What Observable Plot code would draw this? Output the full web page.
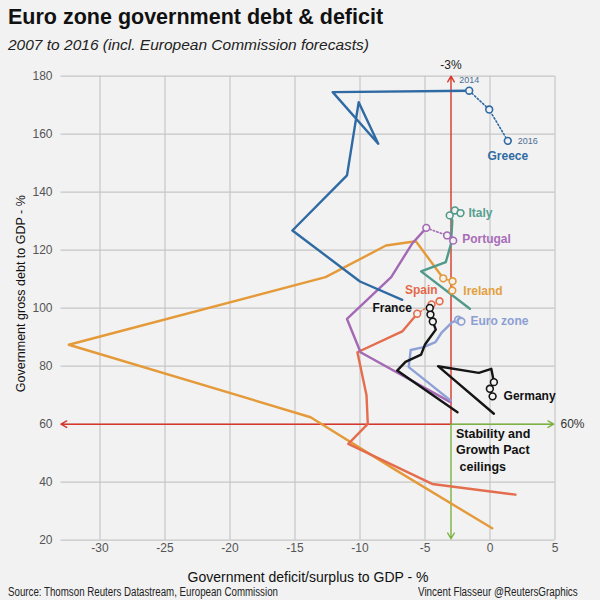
<!DOCTYPE html>
<html><head><meta charset="utf-8">
<script src="https://cdn.jsdelivr.net/npm/d3@7"></script>
<script src="https://cdn.jsdelivr.net/npm/@observablehq/plot@0.6"></script>
<style>
html,body{margin:0;padding:0;background:#f2f2f2;}
#wrap{position:relative;width:600px;height:600px;overflow:hidden;font-family:"Liberation Sans",Arial,sans-serif;}
#title{position:absolute;left:8px;top:7px;font-size:21.5px;font-weight:bold;line-height:1;color:#111;white-space:nowrap;}
#subtitle{position:absolute;left:8px;top:37px;font-size:15.5px;font-style:italic;line-height:1;color:#222;white-space:nowrap;}
#chart{position:absolute;left:0;top:58px;}
.foot{position:absolute;top:586px;font-size:12px;line-height:1;color:#222;white-space:nowrap;}
#footL{left:8px;transform:scaleX(0.81);transform-origin:left center;}
#footR{right:22px;transform:scaleX(0.82);transform-origin:right center;}
</style></head>
<body>
<div id="wrap">
  <div id="title">Euro zone government debt &amp; deficit</div>
  <div id="subtitle">2007 to 2016 (incl. European Commission forecasts)</div>
  <div id="chart"></div>
  <div class="foot" id="footL">Source: Thomson Reuters Datastream, European Commission</div>
  <div class="foot" id="footR">Vincent Flasseur @ReutersGraphics</div>
</div>
<script>
// ---- data: [deficit/surplus % GDP, gross debt % GDP] ----
const countries = ["Greece", "Italy", "Portugal", "Ireland", "Spain", "France", "Euro zone", "Germany"];

const greece = [[-6.75,102.9],[-10.0,109.2],[-15.2,126.8],[-11.0,145.8],[-10.1,171.0],[-8.6,156.7],[-12.1,174.5],[-1.6,175.0]];
const greeceForecast = [[-1.6,175.0],[-0.06,168.5],[1.37,157.7]];

const italy = [[-1.55,99.8],[-5.3,112.7],[-3.4,115.9],[-3.0,122.2],[-2.9,130.2],[-3.1,132.0]];
const italyForecast = [[-3.1,132.0],[-2.7,133.7],[-2.27,132.8]];

const portugal = [[-3.04,67.6],[-9.96,84.8],[-11.0,96.3],[-7.6,110.7],[-6.0,122.2],[-4.9,127.7]];
const portugalForecast = [[-4.9,127.7],[-3.3,125.1],[-2.83,123.3]];

const ireland = [[0.17,24.1],[-7.4,44.6],[-13.8,62.4],[-32.4,87.4],[-12.65,110.7],[-8.0,121.6],[-5.7,123.1],[-3.6,110.3]];
const irelandForecast = [[-3.6,110.3],[-2.88,109.3],[-2.9,106.1]];

const spain = [[1.96,35.7],[-4.45,39.4],[-10.9,53.2],[-9.4,60.1],[-9.5,70.0],[-10.2,84.8],[-6.75,92.0],[-5.6,98.1]];
const spainForecast = [[-5.6,98.1],[-4.5,101.3],[-3.88,102.4]];

const france = [[-2.5,64.1],[-7.14,78.5],[-6.5,81.5],[-5.3,84.0],[-5.0,87.5],[-4.6,90.0],[-4.17,92.6],[-4.4,95.4]];
const franceForecast = [[-4.4,95.4],[-4.58,97.8],[-4.63,100.1]];

const eurozone = [[-3.04,68.2],[-6.25,79.7],[-6.1,85.6],[-5.1,86.6],[-4.2,88.3],[-3.7,91.7],[-2.9,95.2],[-2.45,96.0]];
const eurozoneForecast = [[-2.45,96.0],[-2.27,95.5],[-2.2,95.4]];

const germany = [[0.3,63.6],[-4.0,80.0],[-0.86,77.7],[0.1,79.1],[0.3,74.5]];
const germanyForecast = [[0.3,74.5],[-0.01,72.2],[0.2,69.6]];

const xTicks = [-30, -25, -20, -15, -10, -5, 0, 5];
const yTicks = [20, 40, 60, 80, 100, 120, 140, 160, 180];
const deficitCeiling = -3;
const debtCeiling = 60;
const xLabel = "Government deficit/surplus to GDP - %";
const yLabel = "Government gross debt to GDP - %";
const pactNote = "Stability and\nGrowth Pact\n ceilings";
const yearLabels = ["2014", "2016"];

// ---- styles ----
const series = {
  "Greece":    {pts: greece,   fc: greeceForecast,   color: "#2f6aa3", text: "#2f6aa3", anchor: "middle", dx: 0,   dy: 15},
  "Italy":     {pts: italy,    fc: italyForecast,    color: "#4f9a8a", text: "#55a090", anchor: "start",  dx: 8,   dy: 0},
  "Portugal":  {pts: portugal, fc: portugalForecast, color: "#a369b5", text: "#a86cb8", anchor: "start",  dx: 9,   dy: -1},
  "Ireland":   {pts: ireland,  fc: irelandForecast,  color: "#e59a3a", text: "#e4a040", anchor: "start",  dx: 11,  dy: 0.5},
  "Spain":     {pts: spain,    fc: spainForecast,    color: "#e46d4d", text: "#e3694a", anchor: "end",    dx: -2,  dy: -11},
  "France":    {pts: france,   fc: franceForecast,   color: "#151515", text: "#111",    anchor: "end",    dx: -18, dy: 0},
  "Euro zone": {pts: eurozone, fc: eurozoneForecast, color: "#8ea1d6", text: "#8c9fd4", anchor: "start",  dx: 9,   dy: 0},
  "Germany":   {pts: germany,  fc: germanyForecast,  color: "#151515", text: "#111",    anchor: "start",  dx: 11,  dy: 0}
};
const drawOrder = ["Ireland", "Spain", "Portugal", "Euro zone", "France", "Germany", "Italy", "Greece"];

const marks = [
  Plot.gridX(xTicks, {stroke: "#c6c6c6", strokeOpacity: 1, strokeWidth: 1.2}),
  Plot.gridY(yTicks, {stroke: "#c6c6c6", strokeOpacity: 1, strokeWidth: 1.2}),
  Plot.axisX(xTicks, {tickSize: 0, tickPadding: 3, fontSize: 12, tickFormat: d => String(d), label: null}),
  Plot.axisY(yTicks, {tickSize: 0, tickPadding: 8.5, fontSize: 12, tickFormat: d => String(d), label: null}),
  // ceilings
  Plot.arrow([{x1: deficitCeiling, y1: debtCeiling, x2: deficitCeiling, y2: 180}], {x1: "x1", y1: "y1", x2: "x2", y2: "y2", stroke: "#d8382c", strokeWidth: 1.4, headLength: 7}),
  Plot.arrow([{x1: deficitCeiling, y1: debtCeiling, x2: -33, y2: debtCeiling}], {x1: "x1", y1: "y1", x2: "x2", y2: "y2", stroke: "#d8382c", strokeWidth: 1.4, headLength: 7}),
  Plot.arrow([{x1: deficitCeiling, y1: debtCeiling, x2: 4.9, y2: debtCeiling}], {x1: "x1", y1: "y1", x2: "x2", y2: "y2", stroke: "#7cb342", strokeWidth: 1.4, headLength: 7}),
  Plot.arrow([{x1: deficitCeiling, y1: debtCeiling, x2: deficitCeiling, y2: 20.5}], {x1: "x1", y1: "y1", x2: "x2", y2: "y2", stroke: "#7cb342", strokeWidth: 1.4, headLength: 7})
];

for (const name of drawOrder) {
  const s = series[name];
  marks.push(Plot.line(s.pts, {x: d => d[0], y: d => d[1], stroke: s.color, strokeWidth: 2.4, curve: "linear"}));
  marks.push(Plot.line(s.fc, {x: d => d[0], y: d => d[1], stroke: s.color, strokeWidth: 1.6, strokeDasharray: "1.5,2.2"}));
}
for (const name of drawOrder) {
  const s = series[name];
  marks.push(Plot.dot(s.fc, {x: d => d[0], y: d => d[1], r: 3.4, fill: "#f2f2f2", stroke: s.color, strokeWidth: 1.6}));
}
for (const name of countries) {
  const s = series[name];
  const last = s.fc[s.fc.length - 1];
  marks.push(Plot.text([name], {x: () => last[0], y: () => last[1], text: d => d, textAnchor: s.anchor, dx: s.dx, dy: s.dy, fill: s.text, fontSize: 12, fontWeight: "bold"}));
}
marks.push(
  Plot.text([yearLabels[0]], {x: () => greeceForecast[0][0], y: () => greeceForecast[0][1], text: d => d, dy: -11, fontSize: 9, fill: "#4d6f92"}),
  Plot.text([yearLabels[1]], {x: () => greeceForecast[2][0], y: () => greeceForecast[2][1], text: d => d, dx: 10, textAnchor: "start", fontSize: 9, fill: "#4d6f92"}),
  Plot.text(["-3%"], {x: () => deficitCeiling, y: () => 180, text: d => d, dy: -11, fontSize: 12, fill: "#222"}),
  Plot.text(["60%"], {x: () => 5, y: () => debtCeiling, text: d => d, dx: 5.5, textAnchor: "start", fontSize: 12, fill: "#333"}),
  Plot.text([pactNote], {x: () => deficitCeiling, y: () => debtCeiling, text: d => d, dx: 5, dy: 2, textAnchor: "start", lineAnchor: "top", lineHeight: 1.32, fontSize: 12.5, fontWeight: "bold", fill: "#111"}),
  Plot.text([xLabel], {frameAnchor: "bottom", text: d => d, textAnchor: "middle", lineAnchor: "middle", dy: 37, fontSize: 14, fill: "#111"}),
  Plot.text([yLabel], {frameAnchor: "left", text: d => d, textAnchor: "middle", lineAnchor: "middle", dx: -40.5, dy: -14.5, rotate: -90, fontSize: 12.5, fill: "#111"})
);

const chart = Plot.plot({
  width: 600,
  height: 530,
  marginTop: 17.7,
  marginBottom: 48.3,
  marginLeft: 60.5,
  marginRight: 45.5,
  x: {domain: [-33, 5]},
  y: {domain: [20, 180]},
  style: {background: "transparent", color: "#555", fontFamily: '"Liberation Sans", Arial, sans-serif', overflow: "visible"},
  marks
});
document.getElementById("chart").appendChild(chart);
</script>
</body></html>
